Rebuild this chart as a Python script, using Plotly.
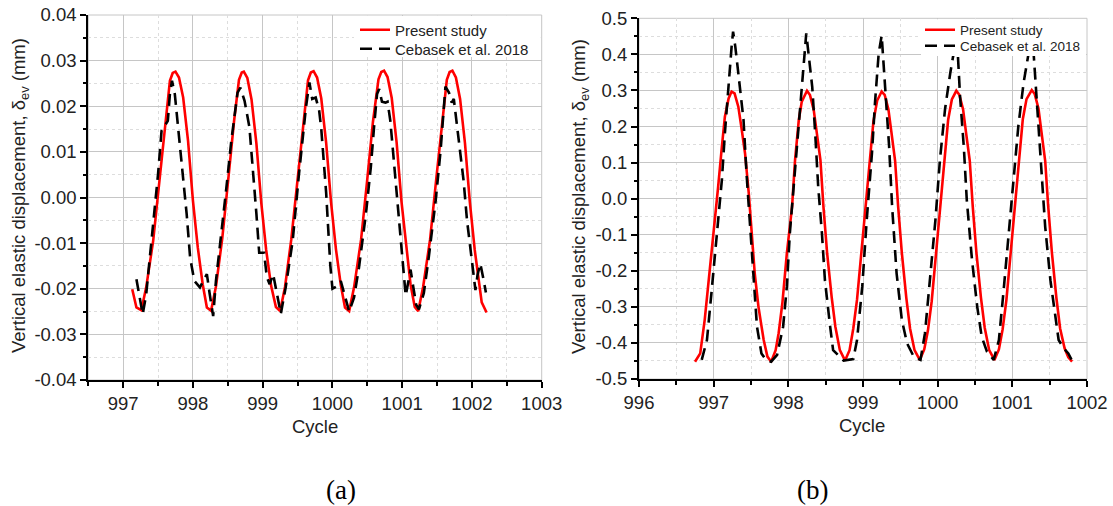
import plotly.graph_objects as go

# ---------------- data: panel (a) ----------------
present_a_x = [997.13, 997.19, 997.26, 997.33, 997.43, 997.52, 997.60, 997.67, 997.71, 997.75, 997.80, 997.86, 997.93,
               998.00, 998.07, 998.14, 998.20, 998.26, 998.33, 998.42, 998.51, 998.59, 998.66, 998.70, 998.73, 998.78,
               998.84, 998.91, 998.98, 999.05, 999.12, 999.19, 999.25, 999.32, 999.41, 999.50, 999.58, 999.65, 999.69,
               999.73, 999.78, 999.84, 999.91, 999.98, 1000.05, 1000.12, 1000.18, 1000.24, 1000.31, 1000.41, 1000.50,
               1000.58, 1000.66, 1000.70, 1000.74, 1000.79, 1000.85, 1000.92, 1000.99, 1001.06, 1001.12, 1001.18,
               1001.23, 1001.30, 1001.40, 1001.49, 1001.57, 1001.64, 1001.68, 1001.72, 1001.77, 1001.83, 1001.90,
               1001.97, 1002.04, 1002.10, 1002.14, 1002.21]
present_a_y = [-0.0201, -0.0241, -0.0247, -0.0197, -0.0095, 0.0037, 0.0161, 0.0256, 0.0273, 0.0276, 0.0263, 0.0219, 0.0124,
               -0.0007, -0.0110, -0.0190, -0.0241, -0.0248, -0.0195, -0.0090, 0.0045, 0.0168, 0.0258, 0.0274, 0.0276, 0.0262,
               0.0215, 0.0118, -0.0012, -0.0115, -0.0193, -0.0240, -0.0249, -0.0196, -0.0092, 0.0042, 0.0166, 0.0257, 0.0274,
               0.0277, 0.0263, 0.0217, 0.0120, -0.0010, -0.0113, -0.0192, -0.0241, -0.0249, -0.0197, -0.0093, 0.0041,
               0.0165, 0.0259, 0.0275, 0.0278, 0.0264, 0.0218, 0.0121, -0.0009, -0.0112, -0.0191, -0.0240,
               -0.0249, -0.0196, -0.0092, 0.0043, 0.0166, 0.0258, 0.0275, 0.0278, 0.0263, 0.0216, 0.0119,
               -0.0010, -0.0115, -0.0190, -0.0230, -0.0252]

cebasek_a_x = [997.19, 997.23, 997.28, 997.33, 997.43, 997.50, 997.55, 997.64, 997.67, 997.70, 997.74, 997.76, 997.83,
               997.91, 997.96, 998.02, 998.10, 998.20, 998.24, 998.29, 998.33, 998.41, 998.48, 998.55, 998.60, 998.64,
               998.68, 998.74, 998.81, 998.86, 998.91, 998.95, 999.02, 999.06, 999.10, 999.15, 999.20, 999.26, 999.33,
               999.43, 999.52, 999.62, 999.67, 999.71, 999.76, 999.81, 999.84, 999.88, 999.91, 999.94, 999.97, 1000.00,
               1000.07, 1000.12, 1000.17, 1000.24, 1000.31, 1000.38, 1000.48, 1000.55, 1000.60, 1000.64, 1000.67,
               1000.71, 1000.76, 1000.79, 1000.83, 1000.88, 1000.93, 1000.98, 1001.02, 1001.05, 1001.09, 1001.12,
               1001.16, 1001.20, 1001.24, 1001.31, 1001.38, 1001.48, 1001.55, 1001.60, 1001.62, 1001.67, 1001.71,
               1001.74, 1001.81, 1001.88, 1001.93, 1001.98, 1002.02, 1002.05, 1002.08, 1002.12, 1002.17, 1002.20]
cebasek_a_y = [-0.0179, -0.0212, -0.0256, -0.0212, -0.0066, 0.0051, 0.0146, 0.0168, 0.0227, 0.0256, 0.0227, 0.0197, 0.0088,
               -0.0036, -0.0132, -0.0183, -0.0197, -0.0168, -0.0211, -0.0260, -0.0183, -0.0080, 0.0022, 0.0124, 0.0190, 0.0230,
               0.0241, 0.0212, 0.0154, 0.0066, -0.0036, -0.0121, -0.0121, -0.0175, -0.0190, -0.0168, -0.0210, -0.0255, -0.0197,
               -0.0095, 0.0051, 0.0197, 0.0252, 0.0216, 0.0219, 0.0190, 0.0150, 0.0080, 0.0010, -0.0070, -0.0150, -0.0200,
               -0.0194, -0.0183, -0.0212, -0.0250, -0.0219, -0.0154, -0.0036, 0.0066, 0.0161, 0.0227, 0.0238,
               0.0210, 0.0208, 0.0210, 0.0168, 0.0080, -0.0007, -0.0095, -0.0168, -0.0215, -0.0183, -0.0158,
               -0.0197, -0.0235, -0.0245, -0.0210, -0.0132, -0.0007, 0.0102, 0.0197, 0.0243, 0.0230, 0.0208,
               0.0216, 0.0124, 0.0037, -0.0051, -0.0110, -0.0168, -0.0203, -0.0170, -0.0145, -0.0183, -0.0208]

# ---------------- data: panel (b) ----------------
present_b_x = [996.75, 996.82, 996.88, 996.95, 997.02, 997.06, 997.11, 997.15, 997.20, 997.24, 997.28, 997.33, 997.37,
               997.42, 997.47, 997.51, 997.55, 997.60, 997.67, 997.72, 997.77,
               997.83, 997.87, 997.92, 997.98, 998.05, 998.09, 998.14, 998.18, 998.25, 998.29, 998.34, 998.38,
               998.43, 998.47, 998.52, 998.58, 998.63, 998.69, 998.76,
               998.82, 998.87, 998.92, 998.98, 999.04, 999.09, 999.14, 999.19, 999.25, 999.29, 999.34, 999.38,
               999.43, 999.47, 999.52, 999.58, 999.63, 999.69, 999.76,
               999.82, 999.87, 999.92, 999.98, 1000.04, 1000.09, 1000.14, 1000.19, 1000.25, 1000.29, 1000.34, 1000.38,
               1000.43, 1000.47, 1000.52, 1000.58, 1000.63, 1000.69, 1000.76,
               1000.82, 1000.87, 1000.92, 1000.98, 1001.04, 1001.09, 1001.14, 1001.19, 1001.26, 1001.30, 1001.35,
               1001.39, 1001.44, 1001.48, 1001.53, 1001.59, 1001.64, 1001.70, 1001.75, 1001.80]
present_b_y = [-0.452, -0.429, -0.336, -0.198, -0.059, 0.033, 0.144, 0.227, 0.278, 0.297, 0.292, 0.255, 0.200,
               0.126, 0.015, -0.096, -0.207, -0.300, -0.392, -0.438, -0.452,
               -0.420, -0.373, -0.290, -0.152, -0.022, 0.107, 0.218, 0.269, 0.299, 0.287, 0.246, 0.181,
               0.107, -0.022, -0.152, -0.272, -0.355, -0.420, -0.449,
               -0.420, -0.360, -0.280, -0.150, -0.020, 0.110, 0.215, 0.272, 0.297, 0.288, 0.248, 0.185,
               0.105, -0.020, -0.150, -0.275, -0.360, -0.420, -0.447,
               -0.418, -0.365, -0.285, -0.150, -0.020, 0.110, 0.218, 0.275, 0.299, 0.288, 0.248, 0.183,
               0.105, -0.022, -0.152, -0.275, -0.358, -0.420, -0.447,
               -0.418, -0.362, -0.282, -0.150, -0.020, 0.112, 0.220, 0.276, 0.301, 0.290, 0.250,
               0.185, 0.105, -0.020, -0.150, -0.275, -0.360, -0.415, -0.440, -0.452]

cebasek_b_x = [996.84, 996.91, 996.97, 997.04, 997.11, 997.15, 997.20, 997.24, 997.26, 997.29, 997.33, 997.40, 997.44,
               997.49, 997.53, 997.58, 997.64, 997.70, 997.77, 997.85, 997.93, 997.98, 998.02, 998.07, 998.12, 998.17,
               998.21, 998.24, 998.27, 998.32, 998.36, 998.40, 998.45, 998.49, 998.56, 998.60, 998.74, 998.87,
               998.92, 998.99, 999.05, 999.12, 999.16, 999.21, 999.25, 999.30, 999.35, 999.39, 999.45, 999.52, 999.59,
               999.68, 999.77, 999.83, 999.90, 999.97, 1000.03, 1000.10, 1000.17, 1000.22, 1000.26, 1000.30, 1000.35,
               1000.39, 1000.46, 1000.53, 1000.59, 1000.66, 1000.75, 1000.82, 1000.88, 1000.95, 1001.02, 1001.08,
               1001.15, 1001.20, 1001.24, 1001.27, 1001.31, 1001.35, 1001.40, 1001.44, 1001.51, 1001.58, 1001.62,
               1001.69, 1001.75, 1001.82]
cebasek_b_y = [-0.447, -0.392, -0.262, -0.096, 0.052, 0.181, 0.329, 0.421, 0.463, 0.421, 0.348, 0.218, 0.070,
               -0.078, -0.226, -0.355, -0.429, -0.447, -0.452, -0.433, -0.355, -0.244, -0.096, 0.030, 0.150, 0.280,
               0.380, 0.458, 0.403, 0.310, 0.181, 0.033, -0.096, -0.226, -0.355, -0.420, -0.449, -0.445,
               -0.392, -0.244, -0.059, 0.126, 0.264, 0.403, 0.452, 0.310, 0.144, -0.022, -0.207, -0.336, -0.401,
               -0.438, -0.447, -0.373, -0.226, -0.059, 0.107, 0.250, 0.350, 0.410, 0.440, 0.283, 0.144,
               -0.004, -0.170, -0.300, -0.383, -0.424, -0.447, -0.392, -0.262, -0.096, 0.052, 0.200,
               0.320, 0.384, 0.430, 0.450, 0.329, 0.190, 0.052, -0.078, -0.226, -0.336, -0.392,
               -0.415, -0.429, -0.457]

# ---------------- tick labels ----------------
xa_ticks = [997, 998, 999, 1000, 1001, 1002, 1003]
xa_labels = ["997", "998", "999", "1000", "1001", "1002", "1003"]
xa_minor = [996.5, 997.5, 998.5, 999.5, 1000.5, 1001.5, 1002.5]
ya_ticks = [-0.04, -0.03, -0.02, -0.01, 0.0, 0.01, 0.02, 0.03, 0.04]
ya_labels = ["-0.04", "-0.03", "-0.02", "-0.01", "0.00", "0.01", "0.02", "0.03", "0.04"]
ya_minor = [-0.035, -0.025, -0.015, -0.005, 0.005, 0.015, 0.025, 0.035]

xb_ticks = [996, 997, 998, 999, 1000, 1001, 1002]
xb_labels = ["996", "997", "998", "999", "1000", "1001", "1002"]
xb_minor = [996.5, 997.5, 998.5, 999.5, 1000.5, 1001.5]
yb_ticks = [-0.5, -0.4, -0.3, -0.2, -0.1, 0.0, 0.1, 0.2, 0.3, 0.4, 0.5]
yb_labels = ["-0.5", "-0.4", "-0.3", "-0.2", "-0.1", "0.0", "0.1", "0.2", "0.3", "0.4", "0.5"]
yb_minor = [-0.45, -0.35, -0.25, -0.15, -0.05, 0.05, 0.15, 0.25, 0.35, 0.45]

series_names = ["Present study", "Cebasek et al. 2018"]

# ---------------- figure ----------------
W, H = 1113, 506
FONT = "Liberation Sans, Arial, sans-serif"
RED = "#ff0000"
DASH = "12px,7px"
TXT = "#222222"

fig = go.Figure()
fig.add_trace(go.Scatter(x=present_a_x, y=present_a_y, mode="lines", name=series_names[0],
                         line=dict(color=RED, width=2.6), xaxis="x", yaxis="y", legend="legend"))
fig.add_trace(go.Scatter(x=cebasek_a_x, y=cebasek_a_y, mode="lines", name=series_names[1],
                         line=dict(color="black", width=2.6, dash=DASH), xaxis="x", yaxis="y", legend="legend3"))
fig.add_trace(go.Scatter(x=present_b_x, y=present_b_y, mode="lines", name=series_names[0],
                         line=dict(color=RED, width=2.6), xaxis="x2", yaxis="y2", legend="legend2"))
fig.add_trace(go.Scatter(x=cebasek_b_x, y=cebasek_b_y, mode="lines", name=series_names[1],
                         line=dict(color="black", width=2.6, dash=DASH), xaxis="x2", yaxis="y2", legend="legend4"))

GRID = "#c6c6c6"
MINOR_GRID = "#dddddd"


def axis(domain, rng, tv, tt, minor_tv, anchor):
    return dict(
        domain=domain, range=rng, anchor=anchor,
        tickmode="array", tickvals=tv, ticktext=tt,
        showline=True, linecolor="black", linewidth=2, mirror=False,
        ticks="outside", ticklen=6, tickwidth=1.5, tickcolor="black",
        showgrid=True, gridcolor=GRID, gridwidth=1, zeroline=False,
        tickfont=dict(family=FONT, size=18.5, color=TXT),
        minor=dict(tickmode="array", tickvals=minor_tv, ticks="outside", ticklen=3.5, tickwidth=1.5,
                   tickcolor="black", showgrid=True, gridcolor=MINOR_GRID, griddash="dot", gridwidth=1),
        automargin=False, fixedrange=True,
    )


xa_dom = [88.3 / W, 541.7 / W]
ya_dom = [1 - 380 / H, 1 - 15 / H]
xb_dom = [639 / W, 1087 / W]
yb_dom = [1 - 379 / H, 1 - 18.3 / H]


def leg(x_px, y_px, size):
    return dict(x=x_px / W, xanchor="left", y=1 - y_px / H, yanchor="middle",
                bgcolor="rgba(0,0,0,0)", borderwidth=0,
                font=dict(family=FONT, size=size, color=TXT), itemwidth=30)


fig.update_layout(
    width=W, height=H,
    margin=dict(l=0, r=0, t=0, b=0),
    paper_bgcolor="white", plot_bgcolor="white",
    font=dict(family=FONT, color=TXT),
    xaxis=axis(xa_dom, [996.5, 1003], xa_ticks, xa_labels, xa_minor, "y"),
    yaxis=axis(ya_dom, [-0.04, 0.04], ya_ticks, ya_labels, ya_minor, "x"),
    xaxis2=axis(xb_dom, [996, 1002], xb_ticks, xb_labels, xb_minor, "y2"),
    yaxis2=axis(yb_dom, [-0.5, 0.5], yb_ticks, yb_labels, yb_minor, "x2"),
    legend=leg(355, 30, 15),
    legend3=leg(355, 49, 15),
    legend2=leg(920, 30, 13.5),
    legend4=leg(920, 46, 13.5),
    showlegend=True,
)

# gray frame (top / right borders)
for xr, yr in (("x domain", "y domain"), ("x2 domain", "y2 domain")):
    fig.add_shape(type="rect", xref=xr, yref=yr, x0=0, x1=1, y0=0, y1=1,
                  line=dict(color=GRID, width=1), layer="below")

# white legend backgrounds
for x0, x1, y0, y1 in ((354, 540.7, 16, 57), (921, 1086, 19.3, 56)):
    fig.add_shape(type="rect", xref="paper", yref="paper", x0=x0 / W, x1=x1 / W, y0=1 - y1 / H, y1=1 - y0 / H,
                  line=dict(width=0), fillcolor="white", layer="above")

ytitle = "Vertical elastic displacement, δ<sub>ev</sub> (mm)"
ann = [
    dict(x=20 / W, y=1 - 196 / H, text=ytitle, textangle=-90, font=dict(family=FONT, size=18.5, color=TXT)),
    dict(x=580 / W, y=1 - 197 / H, text=ytitle, textangle=-90, font=dict(family=FONT, size=18.5, color=TXT)),
    dict(x=315 / W, y=1 - 426 / H, text="Cycle", font=dict(family=FONT, size=18.5, color=TXT)),
    dict(x=862 / W, y=1 - 425 / H, text="Cycle", font=dict(family=FONT, size=18.5, color=TXT)),
    dict(x=341 / W, y=1 - 490 / H, text="(a)", font=dict(family="Liberation Serif, Times New Roman, serif", size=27, color="black")),
    dict(x=812 / W, y=1 - 490 / H, text="(b)", font=dict(family="Liberation Serif, Times New Roman, serif", size=27, color="black")),
]
for a in ann:
    fig.add_annotation(xref="paper", yref="paper", showarrow=False, xanchor="center", yanchor="middle", **a)

fig.write_html("out.html")
